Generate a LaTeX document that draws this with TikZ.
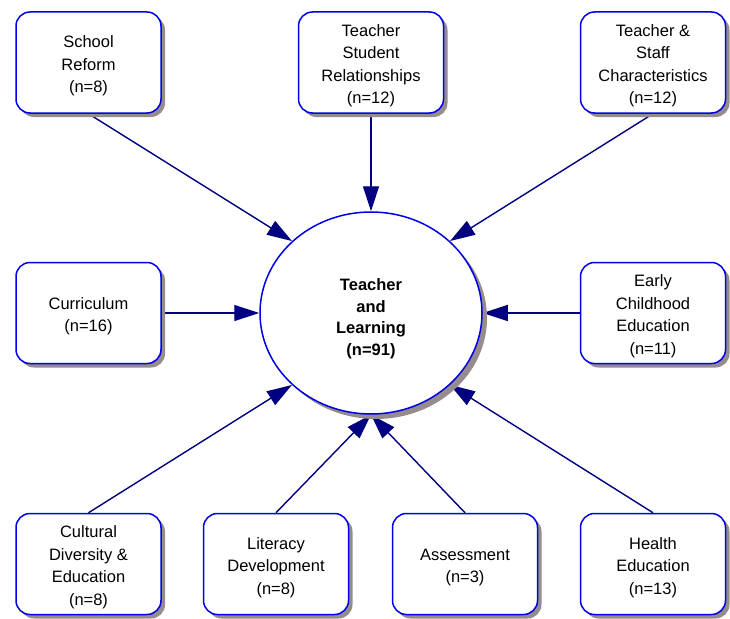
\documentclass[tikz,border=0pt]{standalone}
\usepackage{fontspec}
\setmainfont{Liberation Sans}
\usetikzlibrary{shapes.geometric,arrows.meta,shadows,backgrounds}
\definecolor{boxblue}{RGB}{0,0,230}
\definecolor{linenavy}{RGB}{0,0,128}
\definecolor{shadowgray}{RGB}{150,140,140}
\newcommand\bxstrut{\rule{0pt}{18.5pt}}
\newcommand\hubstrut{\rule{0pt}{23.5pt}}
\begin{document}
\begin{tikzpicture}[x=1pt,y=-1pt,
  box/.style={draw=boxblue, line width=1.5pt, rounded corners=14pt, fill=white,
    minimum width=145pt, minimum height=101pt, align=center, inner sep=0pt,
    font=\fontsize{16.5}{22.5}\selectfont,
    drop shadow={shadow xshift=4pt, shadow yshift=-4pt, fill=shadowgray, opacity=1}},
  hub/.style={ellipse, draw=boxblue, line width=1.5pt, fill=white,
    minimum width=222pt, minimum height=202pt, inner sep=0pt, align=center,
    font=\bfseries\fontsize{16.5}{21.5}\selectfont,
    drop shadow={shadow xshift=5pt, shadow yshift=-5pt, fill=shadowgray, opacity=1}},
  conn/.style={draw=linenavy, line width=1.4pt, -{Triangle[length=25pt,width=16pt]}}]
\useasboundingbox (0,0) rectangle (730,618);
\node[hub] (c) at (371,313) {\hubstrut Teacher\\and\\Learning\\(n=91)};
\node[box] (sr)  at (88.5,62.5) {\bxstrut School\\Reform\\(n=8)};
\node[box] (tsr) at (371,62.5) {\bxstrut Teacher\\Student\\Relationships\\(n=12)};
\node[box] (tsc) at (653,62.5) {\bxstrut Teacher \&\\Staff\\Characteristics\\(n=12)};
\node[box] (cur) at (88.5,313) {\bxstrut Curriculum\\(n=16)};
\node[box] (ec)  at (653,313) {\bxstrut Early\\Childhood\\Education\\(n=11)};
\node[box] (cd)  at (88.5,564) {\bxstrut Cultural\\Diversity \&\\Education\\(n=8)};
\node[box] (lit) at (276,564) {\bxstrut Literacy\\Development\\(n=8)};
\node[box] (asm) at (465,564) {\bxstrut Assessment\\(n=3)};
\node[box] (he)  at (653,564) {\bxstrut Health\\Education\\(n=13)};
\begin{scope}[on background layer]
\draw[conn] (sr.south) -- (c.north west);
\draw[conn] (tsr.south) -- (c.north);
\draw[conn] (tsc.south) -- (c.north east);
\draw[conn] (cur.east) -- (c.west);
\draw[conn] (ec.west) -- (c.east);
\draw[conn] (cd.north) -- (c.south west);
\draw[conn] (lit.north) -- (c.south);
\draw[conn] (asm.north) -- (c.south);
\draw[conn] (he.north) -- (c.south east);
\end{scope}
\end{tikzpicture}
\end{document}
